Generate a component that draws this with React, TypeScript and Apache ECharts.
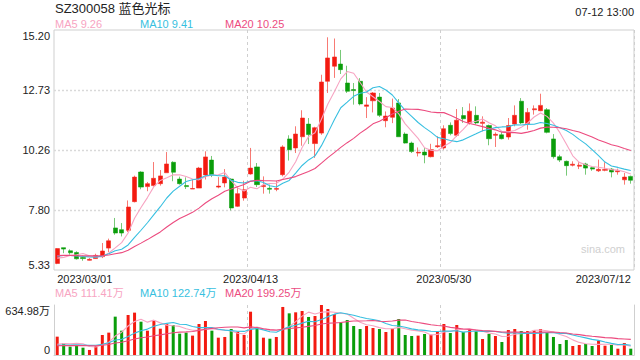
import React, { useEffect, useRef } from 'react';
import * as echarts from 'echarts';

const dates = [
  '2023/03/01','2023/03/02','2023/03/03','2023/03/06','2023/03/07','2023/03/08','2023/03/09','2023/03/10','2023/03/13','2023/03/14',
  '2023/03/15','2023/03/16','2023/03/17','2023/03/20','2023/03/21','2023/03/22','2023/03/23','2023/03/24','2023/03/27','2023/03/28',
  '2023/03/29','2023/03/30','2023/03/31','2023/04/03','2023/04/04','2023/04/06','2023/04/07','2023/04/10','2023/04/11','2023/04/12',
  '2023/04/13','2023/04/14','2023/04/17','2023/04/18','2023/04/19','2023/04/20','2023/04/21','2023/04/24','2023/04/25','2023/04/26',
  '2023/04/27','2023/04/28','2023/05/04','2023/05/05','2023/05/08','2023/05/09','2023/05/10','2023/05/11','2023/05/12','2023/05/15',
  '2023/05/16','2023/05/17','2023/05/18','2023/05/19','2023/05/22','2023/05/23','2023/05/24','2023/05/25','2023/05/26','2023/05/29',
  '2023/05/30','2023/05/31','2023/06/01','2023/06/02','2023/06/05','2023/06/06','2023/06/07','2023/06/08','2023/06/09','2023/06/12',
  '2023/06/13','2023/06/14','2023/06/15','2023/06/16','2023/06/19','2023/06/20','2023/06/21','2023/06/26','2023/06/27','2023/06/28',
  '2023/06/29','2023/06/30','2023/07/03','2023/07/04','2023/07/05','2023/07/06','2023/07/07','2023/07/10','2023/07/11','2023/07/12',
];

const opens = [
  5.60, 6.25, 6.12, 6.05, 5.84, 5.73, 5.80, 5.88, 6.23, 7.06,
  6.99, 6.96, 8.14, 9.36, 8.76, 8.80, 8.88, 9.33, 9.76, 9.07,
  8.80, 8.66, 8.70, 9.24, 9.85, 8.74, 8.91, 9.07, 7.95, 8.29,
  9.28, 9.57, 8.76, 8.69, 8.65, 9.25, 10.72, 10.35, 10.81, 11.33,
  10.53, 10.96, 13.09, 13.71, 13.80, 13.02, 12.75, 13.09, 12.06, 12.29,
  12.44, 11.47, 11.61, 12.20, 10.92, 10.55, 10.14, 10.18, 9.99, 10.40,
  10.35, 11.28, 10.87, 11.68, 11.38, 11.69, 11.36, 11.27, 10.87, 10.89,
  10.80, 11.33, 12.27, 11.35, 11.92, 11.88, 11.92, 10.72, 9.99, 9.80,
  9.64, 9.60, 9.69, 9.54, 9.41, 9.43, 9.48, 9.37, 9.04, 9.18,
];
const closes = [
  6.21, 6.19, 6.04, 5.79, 5.80, 5.77, 5.93, 6.11, 6.53, 6.85,
  6.85, 7.92, 9.15, 8.74, 8.88, 9.10, 9.20, 9.69, 9.35, 8.88,
  8.76, 8.68, 9.52, 9.98, 9.25, 8.78, 9.15, 7.88, 8.47, 8.63,
  9.52, 8.84, 8.80, 8.65, 8.68, 10.39, 10.28, 10.92, 11.58, 10.90,
  11.18, 13.06, 14.05, 14.09, 13.57, 12.68, 12.71, 12.16, 12.12, 12.61,
  11.69, 11.66, 11.99, 10.81, 10.55, 10.20, 10.17, 10.06, 10.28, 10.44,
  11.14, 10.94, 11.49, 11.55, 11.86, 11.38, 11.41, 10.73, 10.91, 10.73,
  11.27, 11.69, 11.38, 11.81, 11.96, 12.10, 10.99, 9.99, 9.85, 9.62,
  9.68, 9.64, 9.52, 9.48, 9.47, 9.46, 9.36, 9.41, 9.15, 9.02,
];
const lows = [
  5.57, 6.02, 5.96, 5.76, 5.71, 5.72, 5.79, 5.82, 6.07, 6.78,
  6.71, 6.89, 8.11, 8.65, 8.57, 8.76, 8.80, 9.33, 8.98, 8.84,
  8.66, 8.66, 8.70, 9.05, 9.15, 8.69, 8.73, 7.78, 7.92, 8.18,
  9.25, 8.74, 8.47, 8.47, 8.57, 9.18, 9.83, 10.14, 10.44, 10.51,
  9.94, 10.89, 12.61, 13.23, 13.39, 12.61, 12.13, 12.10, 11.58, 11.81,
  11.62, 11.20, 11.37, 10.81, 10.53, 10.14, 10.00, 9.72, 9.96, 10.35,
  10.28, 10.87, 10.80, 11.38, 11.31, 11.31, 11.03, 10.46, 10.39, 10.70,
  10.69, 11.24, 11.33, 11.10, 11.72, 11.86, 10.95, 9.91, 9.77, 9.21,
  9.59, 9.48, 9.25, 9.41, 9.36, 9.39, 9.14, 9.25, 8.84, 8.88,
];
const highs = [
  6.23, 6.25, 6.18, 6.10, 5.92, 5.82, 6.00, 6.44, 6.62, 7.47,
  7.26, 8.19, 9.21, 9.39, 8.95, 9.77, 9.44, 10.18, 9.80, 9.17,
  9.14, 9.05, 9.57, 10.21, 10.02, 9.15, 9.48, 9.11, 8.77, 9.00,
  10.35, 9.73, 9.18, 8.84, 9.00, 10.46, 10.87, 11.24, 11.90, 11.58,
  11.22, 13.36, 14.90, 14.85, 14.38, 13.73, 13.02, 13.22, 12.44, 12.65,
  12.61, 11.85, 12.38, 12.36, 10.99, 10.61, 10.37, 10.35, 10.52, 10.83,
  11.28, 11.40, 11.95, 12.03, 12.18, 12.06, 11.65, 11.31, 10.99, 11.03,
  11.58, 12.10, 12.40, 11.99, 12.10, 12.58, 11.99, 10.92, 10.07, 9.83,
  9.80, 9.76, 9.74, 9.59, 9.87, 9.76, 9.52, 9.50, 9.32, 9.21,
];
// volume in 万
const volumes = [
  233, 152, 106, 127, 93, 64, 114, 254, 284, 487,
  309, 508, 538, 423, 309, 436, 334, 394, 381, 271,
  284, 246, 394, 432, 309, 220, 229, 330, 296, 254,
  550, 347, 220, 207, 229, 610, 529, 542, 559, 483,
  495, 634.98, 584, 521, 415, 444, 368, 330, 368, 343,
  330, 292, 334, 457, 254, 241, 246, 267, 258, 296,
  394, 279, 381, 292, 326, 301, 203, 267, 241, 165,
  317, 330, 305, 305, 313, 330, 288, 229, 140, 190,
  114, 127, 140, 114, 182, 118, 127, 80, 152, 80,
];
// estimated closes / volumes of the 19 sessions before 2023/03/01 (for the moving averages)
const priorCloses = [5.98, 6.02, 5.95, 5.90, 5.92, 5.96, 5.93, 5.89, 5.94, 5.91, 5.95, 6.00, 6.03, 5.97, 5.95, 6.04, 5.66, 5.62, 5.57];
const priorVolumes = [120, 105, 98, 130, 115, 102, 125, 110, 108, 117, 105, 118, 96, 121, 110, 98, 125, 104, 120];

const priceTickLabels = ['5.33', '7.80', '10.26', '12.73', '15.20'];
const volTickLabels = ['0', '634.98万'];
const priceMaLabels = ['MA5 9.26', 'MA10 9.41', 'MA20 10.25'];
const volMaLabels = ['MA5 111.41万', 'MA10 122.74万', 'MA20 199.25万'];
const maPeriods = [5, 10, 20];
const titleText = 'SZ300058 蓝色光标';
const timeText = '07-12 13:00';
const watermarkText = 'sina.com';
const xLabelIndices = [0, 30, 60, 89];
const splitIndices = [30, 60];

const PRICE_MIN = 5.33;
const PRICE_MAX = 15.2;
const VOL_MAX = 634.98;

const UP = '#f31a10';
const DOWN = '#0a9d0a';
const UP_BORDER = 'rgba(243,40,30,0.62)';
const DOWN_BORDER = 'rgba(10,157,10,0.55)';
const MA_COLORS = ['#f7a4c2', '#37bfe0', '#ec4b7f'];
const FONT = '"Liberation Sans", Arial, "Noto Sans CJK SC", sans-serif';

function movingAverage(values: number[], prior: number[], n: number): number[] {
  const all = prior.concat(values);
  const off = prior.length;
  return values.map((_, i) => {
    let s = 0;
    for (let k = 0; k < n; k++) s += all[off + i - k];
    return +(s / n).toFixed(3);
  });
}

export default function App() {
  const ref = useRef<HTMLDivElement>(null);

  useEffect(() => {
    if (!ref.current) return;
    const chart = echarts.init(ref.current, undefined, { renderer: 'svg' });

    const candleData = dates.map((_, i) => [opens[i], closes[i], lows[i], highs[i]]);
    const volData = volumes.map((v, i) => ({
      value: v,
      itemStyle: { color: closes[i] >= opens[i] ? UP : DOWN },
    }));

    const priceMaSeries = maPeriods.map((p, k) => ({
      type: 'line',
      name: 'pMA' + p,
      xAxisIndex: 0,
      yAxisIndex: 0,
      data: movingAverage(closes, priorCloses, p),
      symbol: 'none',
      showSymbol: false,
      silent: true,
      lineStyle: { width: 1.1, color: MA_COLORS[k] },
      z: 3,
    }));
    const volMaSeries = maPeriods.map((p, k) => ({
      type: 'line',
      name: 'vMA' + p,
      xAxisIndex: 1,
      yAxisIndex: 1,
      data: movingAverage(volumes, priorVolumes, p),
      symbol: 'none',
      showSymbol: false,
      silent: true,
      lineStyle: { width: 1.1, color: MA_COLORS[k] },
      z: 3,
    }));

    const legendX = [55, 140, 225];
    const graphics: any[] = [
      { type: 'text', x: 55, y: 8, style: { text: titleText, fill: '#222', font: `13px ${FONT}`, verticalAlign: 'middle', align: 'left' } },
      { type: 'text', x: 634, y: 12, style: { text: timeText, fill: '#222', font: `11px ${FONT}`, verticalAlign: 'middle', align: 'right' } },
      { type: 'text', x: 603, y: 249, style: { text: watermarkText, fill: '#cfcfcf', font: `11px ${FONT}`, verticalAlign: 'middle', align: 'center' } },
    ];
    priceMaLabels.forEach((t, k) => {
      graphics.push({ type: 'text', x: legendX[k], y: 24, style: { text: t, fill: MA_COLORS[k], font: `11px ${FONT}`, verticalAlign: 'middle', align: 'left' } });
    });
    volMaLabels.forEach((t, k) => {
      graphics.push({ type: 'text', x: legendX[k], y: 293, style: { text: t, fill: MA_COLORS[k], font: `11px ${FONT}`, verticalAlign: 'middle', align: 'left' } });
    });

    const splitLine = {
      show: true,
      interval: (i: number) => splitIndices.indexOf(i) >= 0,
      lineStyle: { color: '#cfcfcf', type: [3, 3], width: 1 },
    };

    const option: any = {
      animation: false,
      textStyle: { fontFamily: FONT },
      grid: [
        { left: 54, right: 6, top: 30, height: 240, show: true, borderColor: '#cfcfcf', borderWidth: 1, backgroundColor: 'transparent' },
        { left: 54, right: 6, top: 305, height: 50, show: false },
      ],
      xAxis: [
        {
          type: 'category',
          gridIndex: 0,
          data: dates,
          boundaryGap: true,
          axisLine: { show: false },
          axisTick: { show: false },
          axisLabel: {
            show: true,
            interval: (i: number) => xLabelIndices.indexOf(i) >= 0,
            color: '#222',
            fontSize: 11,
            margin: 3,
            alignMinLabel: 'left',
            alignMaxLabel: 'right',
          },
          splitLine,
        },
        {
          type: 'category',
          gridIndex: 1,
          data: dates,
          boundaryGap: true,
          position: 'top',
          axisLine: { show: true, lineStyle: { color: '#cfcfcf', width: 1 } },
          axisTick: { show: false },
          axisLabel: { show: false },
          splitLine,
        },
      ],
      yAxis: [
        {
          type: 'value',
          gridIndex: 0,
          min: PRICE_MIN,
          max: PRICE_MAX,
          interval: (PRICE_MAX - PRICE_MIN) / 4,
          axisLine: { show: false },
          axisTick: { show: false },
          axisLabel: {
            color: '#222',
            fontSize: 11,
            margin: 4,
            formatter: (v: number) => {
              const idx = Math.round((v - PRICE_MIN) / ((PRICE_MAX - PRICE_MIN) / 4));
              return priceTickLabels[idx] ?? v.toFixed(2);
            },
            verticalAlignMinLabel: 'bottom',
            verticalAlignMaxLabel: 'top',
          },
          splitLine: { show: true, showMinLine: false, showMaxLine: false, lineStyle: { color: '#d9d9d9', type: [2, 2], width: 1.3 } },
        },
        {
          type: 'value',
          gridIndex: 1,
          min: 0,
          max: VOL_MAX,
          interval: VOL_MAX,
          axisLine: { show: true, lineStyle: { color: '#cfcfcf', width: 1 } },
          axisTick: { show: false },
          axisLabel: {
            color: '#222',
            fontSize: 11,
            margin: 4,
            formatter: (v: number) => (v > 0 ? volTickLabels[1] : volTickLabels[0]),
            verticalAlignMinLabel: 'bottom',
            verticalAlignMaxLabel: 'top',
          },
          splitLine: { show: false },
        },
        {
          type: 'value',
          gridIndex: 1,
          position: 'right',
          min: 0,
          max: VOL_MAX,
          axisLine: { show: true, lineStyle: { color: '#cfcfcf', width: 1 } },
          axisTick: { show: false },
          axisLabel: { show: false },
          splitLine: { show: false },
        },
      ],
      series: [
        {
          type: 'candlestick',
          name: 'K',
          xAxisIndex: 0,
          yAxisIndex: 0,
          data: candleData,
          barWidth: 4.6,
          itemStyle: {
            color: UP,
            color0: DOWN,
            borderColor: UP_BORDER,
            borderColor0: DOWN_BORDER,
            borderWidth: 1,
          },
          z: 2,
        },
        ...priceMaSeries,
        {
          type: 'bar',
          name: 'VOL',
          xAxisIndex: 1,
          yAxisIndex: 1,
          data: volData,
          barWidth: 3,
          z: 2,
        },
        ...volMaSeries,
      ],
      graphic: graphics,
    };

    chart.setOption(option);
    return () => chart.dispose();
  }, []);

  return (
    <div
      ref={ref}
      style={{ position: 'fixed', left: 0, top: 0, width: 640, height: 360, background: '#fff' }}
    />
  );
}
